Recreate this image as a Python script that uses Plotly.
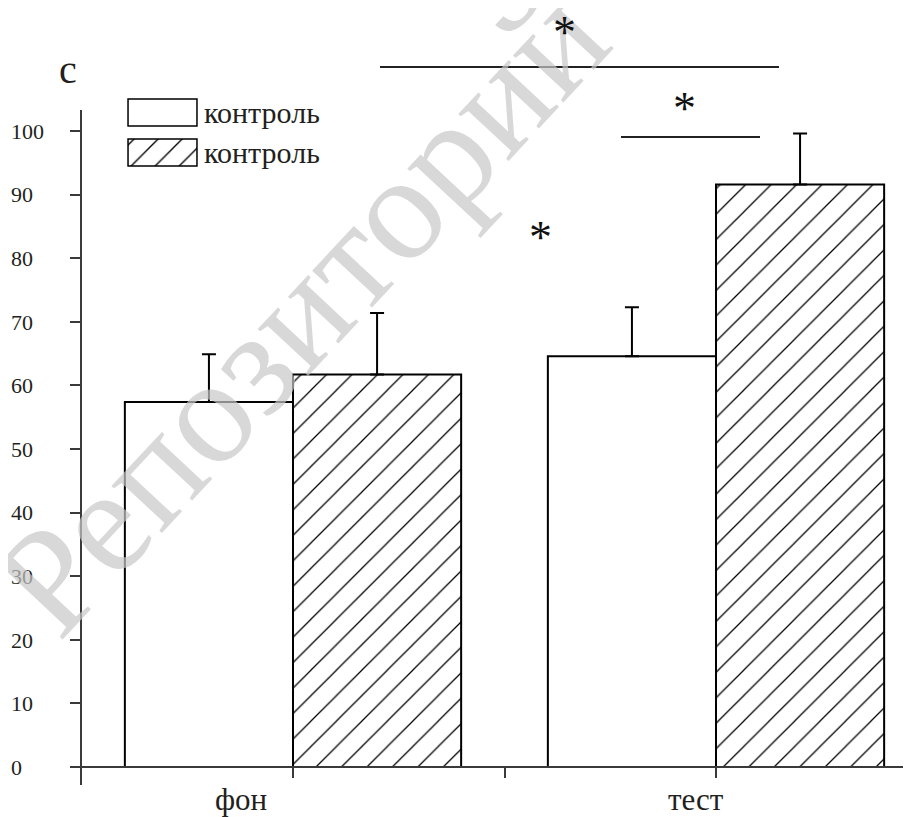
import plotly.graph_objects as go

# ---- data ----
categories = ["фон", "тест"]
series_names = ["контроль", "контроль"]
white_means = [57.4, 64.6]
white_errs = [7.5, 7.7]
hatched_means = [61.7, 91.6]
hatched_errs = [9.7, 8.0]
y_ticks = [0, 10, 20, 30, 40, 50, 60, 70, 80, 90, 100]
panel_label = "c"
sig_marks = ["*", "*", "*"]
watermark = "Репозиторий"

# ---- geometry / style ----
OFF = 8                      # page body margin
W, H = 911 - OFF, 817 - OFF  # figure size
FONT = "Liberation Serif"
TXT = "#231f20"
AX = "#3a3a3a"

x_pos = list(range(len(categories)))
bar_w = 0.3975
label_dx = [-0.123, -0.047]


def px_x(p):
    """screen x pixel -> paper fraction"""
    return (p - OFF) / W


def px_y(p):
    """screen y pixel -> paper fraction"""
    return (H - (p - OFF)) / H


def fnt(size, color=TXT):
    return dict(family=FONT, size=size, color=color)


fig = go.Figure()

fig.add_trace(go.Bar(
    x=x_pos, y=white_means, width=bar_w, offset=-bar_w,
    name=series_names[0], showlegend=False,
    marker=dict(color="white", line=dict(color="black", width=2)),
    error_y=dict(type="data", array=white_errs, arrayminus=[0] * len(white_errs),
                 symmetric=False, color="black", thickness=2, width=7),
    xaxis="x", yaxis="y",
))
fig.add_trace(go.Bar(
    x=x_pos, y=hatched_means, width=bar_w, offset=0,
    name=series_names[1], showlegend=False,
    marker=dict(color="white", line=dict(color="black", width=2),
                pattern=dict(shape="/", size=18, solidity=0.07,
                             fgcolor="black", bgcolor="white", fillmode="replace")),
    error_y=dict(type="data", array=hatched_errs, arrayminus=[0] * len(hatched_errs),
                 symmetric=False, color="black", thickness=2, width=7),
    xaxis="x", yaxis="y",
))
# invisible trace carrying the left-aligned tick label axis
fig.add_trace(go.Scatter(x=x_pos, y=white_means, mode="markers",
                         marker=dict(opacity=0), hoverinfo="skip",
                         showlegend=False, xaxis="x", yaxis="y2"))

# legend swatches (mini subplot)
fig.add_trace(go.Bar(
    x=[1], y=[0], orientation="h", width=0.675, offset=-0.3375, base=0,
    showlegend=False, hoverinfo="skip",
    marker=dict(color="white", line=dict(color="black", width=1.5)),
    xaxis="x3", yaxis="y3",
))
fig.add_trace(go.Bar(
    x=[1], y=[1], orientation="h", width=0.675, offset=-0.3375, base=0,
    showlegend=False, hoverinfo="skip",
    marker=dict(color="white", line=dict(color="black", width=1.5),
                pattern=dict(shape="/", size=17, solidity=0.08,
                             fgcolor="black", bgcolor="white", fillmode="replace")),
    xaxis="x3", yaxis="y3",
))

# pixel mapping of main axes (screen pixels)
x0_px, x_unit = 293, 423
y_bottom_px, y_top_px = 785, 110
zero_px, hundred_px = 767, 131
y_unit = (zero_px - hundred_px) / 100.0
y_min = -(y_bottom_px - zero_px) / y_unit
y_max = 100 + (hundred_px - y_top_px) / y_unit
x_min = (82 - x0_px) / x_unit
x_max = (911 - x0_px) / x_unit

fig.update_layout(
    width=W, height=H,
    margin=dict(l=0, r=0, t=0, b=0),
    paper_bgcolor="white", plot_bgcolor="white",
    barmode="overlay",
    xaxis=dict(domain=[px_x(82), 1], range=[x_min, x_max],
               anchor="free", position=px_y(zero_px),
               showline=True, linecolor=AX, linewidth=2,
               tickvals=[0, 0.5, 1], ticks="outside", ticklen=10,
               tickwidth=2, tickcolor=AX, showticklabels=False,
               showgrid=False, zeroline=False),
    yaxis=dict(domain=[px_y(y_bottom_px), px_y(y_top_px)],
               range=[y_min, y_max], anchor="x",
               showline=True, linecolor=AX, linewidth=2,
               tickvals=y_ticks, ticks="outside", ticklen=10,
               tickwidth=1.5, tickcolor=AX, showticklabels=False,
               showgrid=False, zeroline=False),
    yaxis2=dict(overlaying="y", side="right", anchor="free",
                position=px_x(10), range=[y_min, y_max],
                tickvals=y_ticks, ticktext=[str(v) for v in y_ticks],
                ticks="", showline=False, showgrid=False, zeroline=False,
                tickfont=fnt(22)),
    xaxis3=dict(domain=[px_x(127), px_x(198)], range=[-0.015, 1.015],
                visible=False, anchor="y3"),
    yaxis3=dict(domain=[px_y(167), px_y(98)], range=[1.3625, -0.3625],
                visible=False, anchor="x3"),
)

ann = []
# watermark first (drawn beneath other annotations)
ann.append(dict(x=px_x(300), y=px_y(310), xref="paper", yref="paper",
                text=watermark, showarrow=False, textangle=-47,
                xanchor="center", yanchor="middle",
                font=fnt(150, "rgba(200,200,200,0.7)")))
for i, c in enumerate(categories):
    ann.append(dict(x=x_pos[i] + label_dx[i], y=px_y(799), xref="x", yref="paper",
                    text=c, showarrow=False, xanchor="center", yanchor="middle",
                    font=fnt(31)))
for name, cy in zip(series_names, [112, 152]):
    ann.append(dict(x=px_x(202), y=px_y(cy), xref="paper", yref="paper",
                    text=name, showarrow=False, xanchor="left", yanchor="middle",
                    font=fnt(30)))
ann.append(dict(x=px_x(68), y=px_y(70), xref="paper", yref="paper",
                text=panel_label, showarrow=False, xanchor="center", yanchor="middle",
                font=fnt(40)))
for txt, (ax_, ay_) in zip(sig_marks, [(564, 33), (684, 109), (540, 238)]):
    ann.append(dict(x=px_x(ax_), y=px_y(ay_), xref="paper", yref="paper",
                    text=txt, showarrow=False, xanchor="center", yanchor="middle",
                    font=fnt(46, "#111")))
fig.update_layout(annotations=ann)

# significance lines
fig.add_shape(type="line", xref="paper", yref="paper",
              x0=px_x(380), x1=px_x(779), y0=px_y(67), y1=px_y(67),
              line=dict(color="#222", width=2))
fig.add_shape(type="line", xref="paper", yref="paper",
              x0=px_x(621), x1=px_x(760), y0=px_y(137), y1=px_y(137),
              line=dict(color="#222", width=2))

fig.write_html("out.html")
